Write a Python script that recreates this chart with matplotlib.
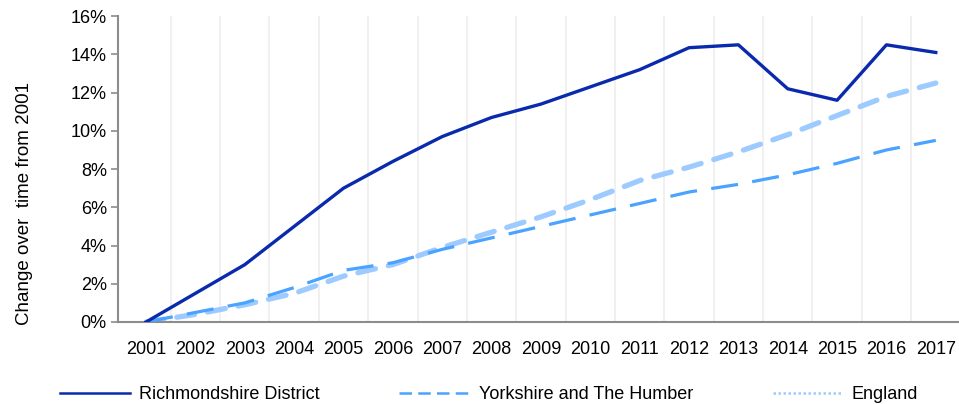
import numpy as np
import matplotlib
matplotlib.use("Agg")
import matplotlib.pyplot as plt
from matplotlib.lines import Line2D
from matplotlib.ticker import PercentFormatter

plt.rcParams['font.family'] = ['Liberation Sans', 'DejaVu Sans']

years = [str(y) for y in range(2001, 2018)]
richmondshire = [0.0, 1.5, 3.0, 5.0, 7.0, 8.4, 9.7, 10.7, 11.4, 12.3, 13.2, 14.35, 14.5, 12.2, 11.6, 14.5, 14.1]
yorkshire = [0.0, 0.5, 1.0, 1.8, 2.7, 3.1, 3.8, 4.4, 5.0, 5.6, 6.2, 6.8, 7.2, 7.7, 8.3, 9.0, 9.5]
england = [0.0, 0.4, 0.9, 1.5, 2.4, 3.0, 3.9, 4.7, 5.5, 6.4, 7.4, 8.1, 8.9, 9.8, 10.8, 11.8, 12.5]

c_rich = "#0a2aad"
c_york = "#4aa3ff"
c_eng = "#9dcbff"

fig = plt.figure(figsize=(9.59, 4.04), dpi=100)
ax = fig.add_axes([0.123, 0.203, 0.877, 0.757])

x = np.arange(len(years))

# vertical gridlines between categories
for b in x[:-1] + 0.5:
    ax.axvline(b, color="#efefef", lw=1.3, zorder=0)

ax.plot(x, england, color=c_eng, lw=3.8, dashes=(3.4, 2.5), dash_capstyle="round", zorder=2)
ax.plot(x, yorkshire, color=c_york, lw=2.3, dashes=(8.5, 4.5), zorder=3)
ax.plot(x, richmondshire, color=c_rich, lw=2.4, zorder=4)

ax.set_xlim(-0.57, 16.47)
ax.set_ylim(0, 16)
ax.set_yticks(range(0, 17, 2))
ax.yaxis.set_major_formatter(PercentFormatter(decimals=0))
ax.set_xticks(x)
ax.set_xticklabels(years)
ax.tick_params(axis="x", length=0, pad=14, labelsize=13)
ax.tick_params(axis="y", length=5, width=1.2, color="#8c8c8c", labelsize=13, pad=3)

for s in ["top", "right"]:
    ax.spines[s].set_visible(False)
for s in ["left", "bottom"]:
    ax.spines[s].set_color("#8c8c8c")
    ax.spines[s].set_linewidth(1.5)

ax.set_ylabel("Change over  time from 2001", fontsize=13.5)
ax.yaxis.set_label_coords(-0.101, 0.386)

handles = [
    Line2D([], [], color=c_rich, lw=1.8),
    Line2D([], [], color=c_york, lw=1.8, dashes=(5, 2.5)),
    Line2D([], [], color=c_eng, lw=1.8, dashes=(1, 1)),
]
labels = ["Richmondshire District", "Yorkshire and The Humber", "England"]
fig.legend(handles, labels, loc="lower center", bbox_to_anchor=(0.51, -0.038), ncol=3,
           frameon=False, fontsize=13, handlelength=3.9, handletextpad=0.5,
           columnspacing=4.4)

fig.savefig("out.png", dpi=100)
